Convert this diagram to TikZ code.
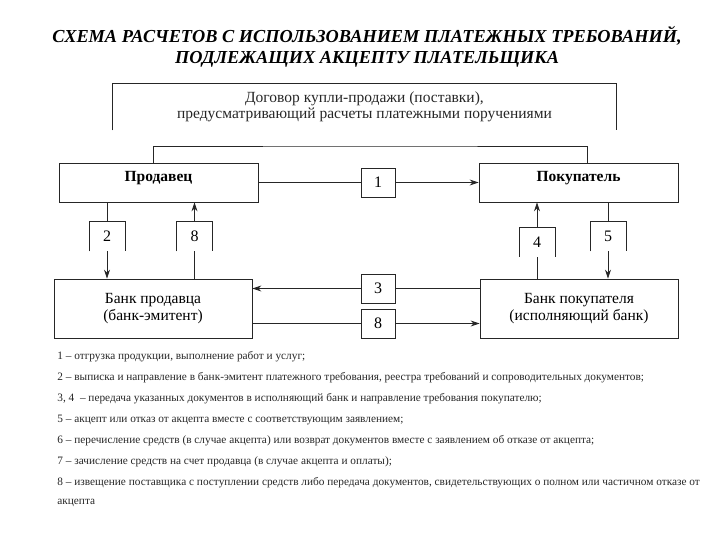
\documentclass[tikz,border=0pt]{standalone}
\usepackage{fontspec}
\setmainfont{Liberation Serif}
\usetikzlibrary{arrows.meta}
\definecolor{ink}{HTML}{262626}
\tikzstyle{block} = [draw=ink, line width=0.8pt, rectangle, inner sep=0pt,
    minimum width=199pt, minimum height=39pt, font=\fontsize{15.5}{17}\selectfont, align=center]
\tikzstyle{party} = [block, font=\fontsize{15.5}{17}\selectfont\bfseries, text depth=12pt]
\tikzstyle{numbox} = [draw=ink, line width=0.8pt, rectangle, inner sep=0pt,
    minimum width=34pt, minimum height=29pt, font=\fontsize{16}{18}\selectfont]
\tikzstyle{openbox} = [rectangle, inner sep=0pt, minimum width=35pt, minimum height=29pt,
    font=\fontsize{16}{18}\selectfont]
\tikzstyle{legend} = [anchor=west, inner sep=0pt, text=ink, font=\fontsize{11.3}{13}\selectfont]
\tikzstyle{arr} = [-{Stealth[length=9pt,width=6pt]}]

\begin{document}
\begin{tikzpicture}[x=1pt, y=-1pt, line width=0.8pt, draw=ink]
    \useasboundingbox (0,0) rectangle (720,540);
    \node[align=center, font=\fontsize{18.3}{21}\selectfont\bfseries\itshape] (title) at (367,47)
        {СХЕМА РАСЧЕТОВ С ИСПОЛЬЗОВАНИЕМ ПЛАТЕЖНЫХ ТРЕБОВАНИЙ,\\ПОДЛЕЖАЩИХ АКЦЕПТУ ПЛАТЕЛЬЩИКА};
    \node[align=center, minimum width=503pt, minimum height=46pt, inner sep=0pt,
        font=\fontsize{15.5}{16}\selectfont, text=ink] (contract) at (364.5,107)
        {Договор купли-продажи (поставки),\\предусматривающий расчеты платежными поручениями};
    \draw (contract.south west) |- (contract.north east) -- (contract.south east);

    \node[party] (seller) at (158.5,182.5) {Продавец};
    \node[party] (buyer) at (578.5,182.5) {Покупатель};
    \node[block, minimum width=198pt, minimum height=59pt] (sbank) at (153,308.5)
        {Банк продавца\\(банк-эмитент)};
    \node[block, minimum width=198pt, minimum height=59pt] (bbank) at (579,308.5)
        {Банк покупателя\\(исполняющий банк)};

    \node[numbox] (n1) at (378,182.5) {1};
    \node[numbox] (n3) at (378,288.5) {3};
    \node[numbox] (n8b) at (378,323.5) {8};

    \node[openbox] (b2) at (107,236.5) {2};
    \node[openbox] (b8) at (194.5,236.5) {8};
    \node[openbox] (b4) at (537,242) {4};
    \node[openbox] (b5) at (608,236.5) {5};
    \foreach \b in {b2,b8,b4,b5}
        \draw (\b.south west) |- (\b.north east) -- (\b.south east);

    \coordinate (link) at (370,146);
    \draw ([xshift=-5.5pt]seller.north) |- (link) -| ([xshift=8.5pt]buyer.north);

    \draw (seller.east |- n1) -- (n1.west);
    \draw[arr] (n1.east) -- (buyer.west |- n1);
    \draw (bbank.west |- n3) -- (n3.east);
    \draw[arr] (n3.west) -- (sbank.east |- n3);
    \draw (sbank.east |- n8b) -- (n8b.west);
    \draw[arr] (n8b.east) -- (bbank.west |- n8b);

    \draw (seller.south -| b2) -- (b2.north);
    \draw[arr] (b2.south) -- (sbank.north -| b2);
    \draw (sbank.north -| b8) -- (b8.south);
    \draw[arr] (b8.north) -- (seller.south -| b8);
    \draw (bbank.north -| b4) -- (b4.south);
    \draw[arr] (b4.north) -- (buyer.south -| b4);
    \draw (buyer.south -| b5) -- (b5.north);
    \draw[arr] (b5.south) -- (bbank.north -| b5);

    \foreach \t [count=\i] in {
        {1 – отгрузка продукции, выполнение работ и услуг;},
        {2 – выписка и направление в банк-эмитент платежного требования, реестра требований и сопроводительных документов;},
        {3, 4 ~– передача указанных документов в исполняющий банк и направление требования покупателю;},
        {5 – акцепт или отказ от акцепта вместе с соответствующим заявлением;},
        {6 – перечисление средств (в случае акцепта) или возврат документов вместе с заявлением об отказе от акцепта;},
        {7 – зачисление средств на счет продавца (в случае акцепта и оплаты);},
        {8 – извещение поставщика с поступлении средств либо передача документов, свидетельствующих о полном или частичном отказе от}}
        \node[legend] (l\i) at (57,{357+21*(\i-1)}) {\t};
    \node[legend] (l8) at (57,503) {акцепта};
\end{tikzpicture}
\end{document}
